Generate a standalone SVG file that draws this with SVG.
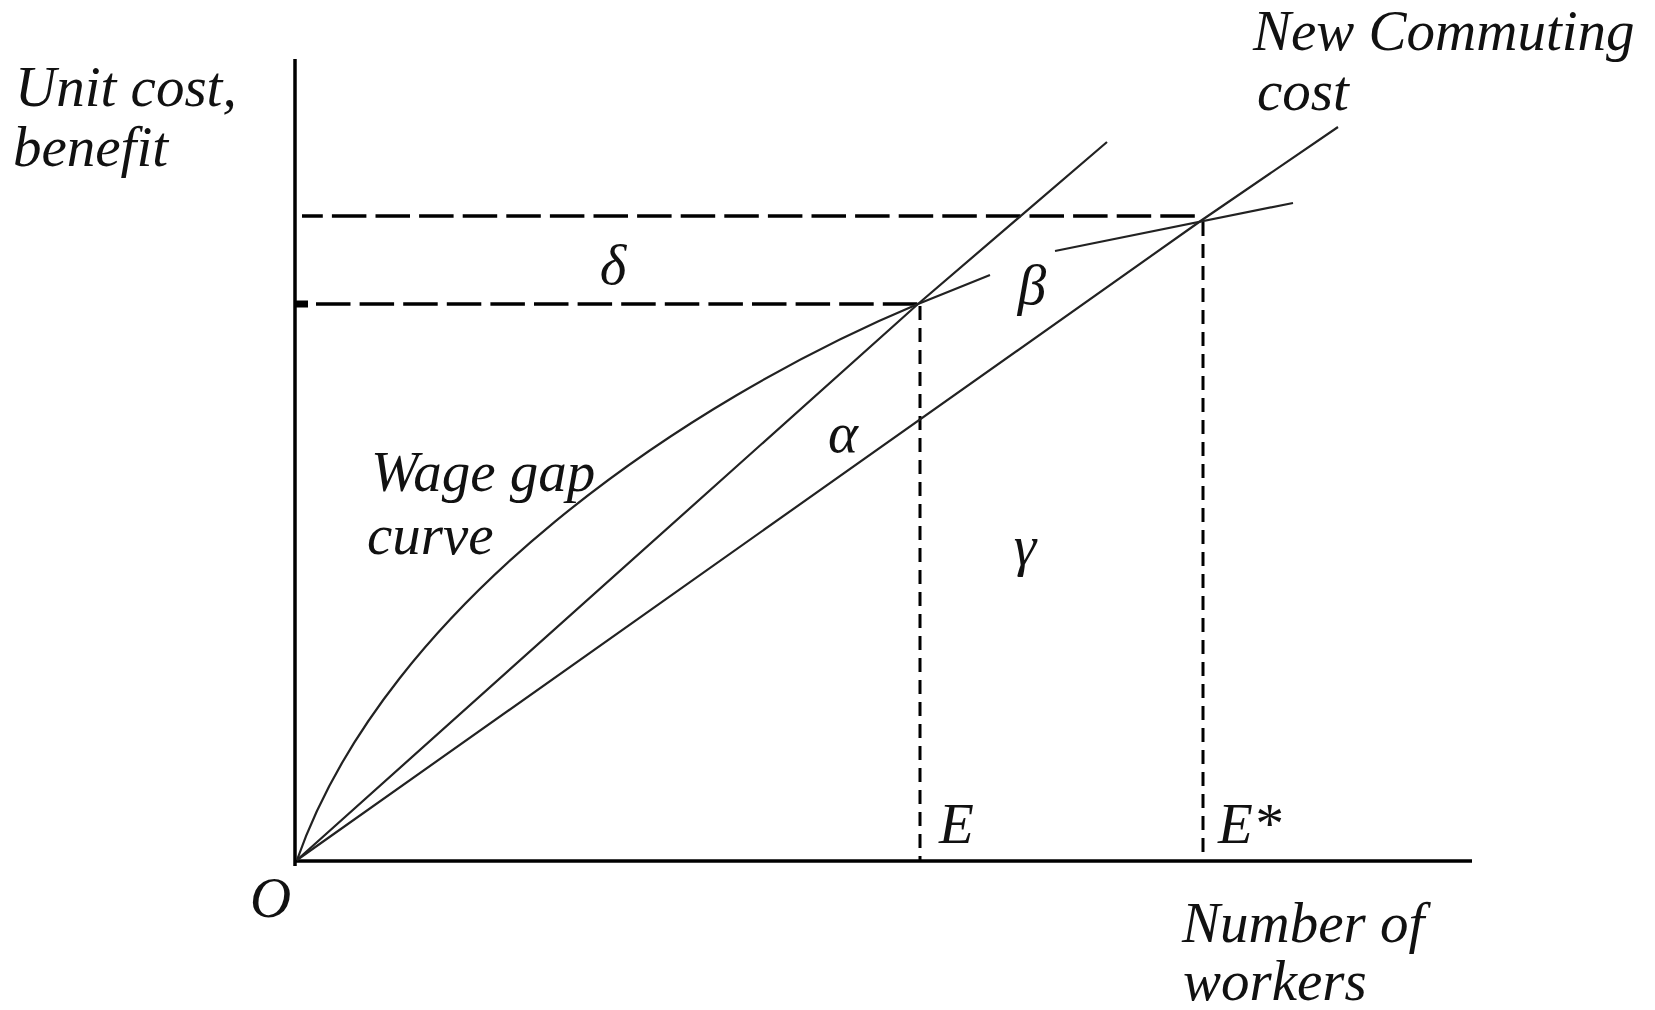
<svg xmlns="http://www.w3.org/2000/svg" width="1655" height="1010" viewBox="0 0 1655 1010">
<style>
  .lbl { font-family: "Liberation Serif", "Times New Roman", serif; font-style: italic; font-size: 57px; fill: #111; }
  .axis { stroke: #000; stroke-width: 3.5; fill: none; }
  .curve { stroke: #222; stroke-width: 2.2; fill: none; }
  .hdash { stroke: #000; stroke-width: 3.5; fill: none; stroke-dasharray: 34.5 9.1; }
  .vdash { stroke: #000; stroke-width: 3; fill: none; stroke-dasharray: 14 8; }
</style>
<rect width="1655" height="1010" fill="#fff"/>
<g id="axes">
  <line class="axis" x1="295" y1="59" x2="295" y2="866"/>
  <line class="axis" x1="294" y1="861" x2="1472" y2="861"/>
</g>
<g id="guides">
  <line class="hdash" x1="302" y1="216" x2="1202" y2="216" stroke-dashoffset="13.7"/>
  <line class="hdash" x1="297" y1="304" x2="918" y2="304" stroke-dashoffset="24.6"/>
  <rect x="295" y="300.5" width="13" height="7" fill="#000"/>
  <line class="vdash" x1="920" y1="306" x2="920" y2="860"/>
  <line class="vdash" x1="1203" y1="222" x2="1203" y2="860"/>
</g>
<g id="connectors">
  <path id="wage-gap-curve" class="curve" d="M297,860 C387,603 688,400 918,304 L990,275"/>
  <path id="commuting-cost" class="curve" d="M297,860 L918,304 L1107,142"/>
  <path id="new-commuting-cost" class="curve" d="M297,860 L1202,220 L1338,127"/>
  <path id="new-wage-gap" class="curve" d="M1055,251 L1293,203"/>
</g>
<g id="label-y-axis">
  <text class="lbl" x="15" y="106">Unit cost,</text>
  <text class="lbl" x="13" y="166">benefit</text>
</g>
<g id="label-new-commuting">
  <text class="lbl" x="1253" y="50">New Commuting</text>
  <text class="lbl" x="1257" y="110">cost</text>
</g>
<g id="label-wage-gap">
  <text class="lbl" x="371" y="491">Wage gap</text>
  <text class="lbl" x="367" y="554">curve</text>
</g>
<g id="label-delta"><text class="lbl" x="613" y="284" text-anchor="middle">δ</text></g>
<g id="label-beta"><text class="lbl" x="1032" y="304" text-anchor="middle">β</text></g>
<g id="label-alpha"><text class="lbl" x="843" y="452" text-anchor="middle">α</text></g>
<g id="label-gamma"><text class="lbl" x="1025" y="565" text-anchor="middle">γ</text></g>
<g id="label-E"><text class="lbl" x="939" y="843">E</text></g>
<g id="label-Estar"><text class="lbl" x="1218" y="843">E*</text></g>
<g id="label-O"><text class="lbl" x="250" y="917">O</text></g>
<g id="label-x-axis">
  <text class="lbl" x="1182" y="942">Number of</text>
  <text class="lbl" x="1183" y="1000">workers</text>
</g>
</svg>
